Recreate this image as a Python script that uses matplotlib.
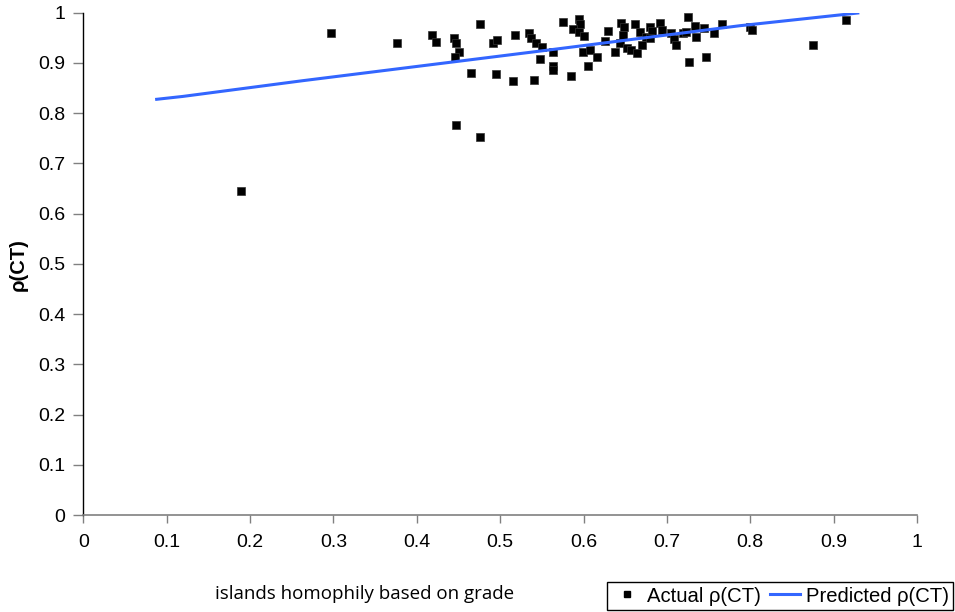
import matplotlib
matplotlib.use("Agg")
import matplotlib.pyplot as plt
from matplotlib.lines import Line2D

# Actual rho(CT) scatter values
actual_x = [0.1887, 0.2966, 0.3765, 0.4185, 0.4229, 0.4445, 0.4469, 0.4508, 0.4460, 0.4472,
            0.4757, 0.4757, 0.4645, 0.4909, 0.4957, 0.4948, 0.5173, 0.5156, 0.5348, 0.5376,
            0.5428, 0.5496, 0.5480, 0.5408, 0.5635, 0.5632, 0.5632, 0.5844, 0.5748, 0.5940,
            0.5956, 0.5868, 0.5947, 0.6004, 0.5995, 0.6076, 0.6156, 0.6048, 0.6295, 0.6259,
            0.6372, 0.6444, 0.6483, 0.6475, 0.6435, 0.6523, 0.6564, 0.6643, 0.6612, 0.6675,
            0.6699, 0.6747, 0.6803, 0.6827, 0.6923, 0.6947, 0.6795, 0.7055, 0.7083, 0.7107,
            0.7194, 0.7254, 0.7235, 0.7338, 0.7347, 0.7266, 0.7451, 0.7475, 0.7571, 0.7667,
            0.7994, 0.8026, 0.8753, 0.9145]
actual_y = [0.6444, 0.9603, 0.9403, 0.9562, 0.9423, 0.9496, 0.9403, 0.9224, 0.9112, 0.7758,
            0.9775, 0.7525, 0.8806, 0.9403, 0.9457, 0.8786, 0.9556, 0.8646, 0.9602, 0.9503,
            0.9391, 0.9323, 0.9078, 0.8666, 0.9224, 0.8939, 0.8869, 0.8740, 0.9821, 0.9875,
            0.9775, 0.9669, 0.9622, 0.9536, 0.9224, 0.9257, 0.9124, 0.8939, 0.9636, 0.9437,
            0.9224, 0.9789, 0.9721, 0.9556, 0.9391, 0.9303, 0.9258, 0.9204, 0.9775, 0.9616,
            0.9357, 0.9522, 0.9709, 0.9642, 0.9789, 0.9656, 0.9490, 0.9602, 0.9471, 0.9357,
            0.9602, 0.9920, 0.9622, 0.9735, 0.9510, 0.9013, 0.9695, 0.9124, 0.9590, 0.9775,
            0.9721, 0.9656, 0.9357, 0.9855]

# Predicted rho(CT) line
pred_x = [0.088, 0.1193, 0.2625, 0.5609, 0.7876, 0.929]
pred_y = [0.8276, 0.8333, 0.8645, 0.9263, 0.9741, 0.9994]

tick_vals = [0.0, 0.1, 0.2, 0.3, 0.4, 0.5, 0.6, 0.7, 0.8, 0.9, 1.0]
tick_labels = ["0", "0.1", "0.2", "0.3", "0.4", "0.5", "0.6", "0.7", "0.8", "0.9", "1"]

plt.rcParams['font.family'] = ['Liberation Sans', 'DejaVu Sans']

fig = plt.figure(figsize=(9.55, 6.12), dpi=100)
ax = fig.add_axes([83.3 / 955, 1 - 515 / 612, (917 - 83.3) / 955, (515 - 12.7) / 612])

ax.plot(actual_x, actual_y, linestyle='none', marker='s', markersize=6,
        markerfacecolor='black', markeredgecolor='#333333', markeredgewidth=0.5,
        zorder=3, clip_on=False)
ax.plot(pred_x, pred_y, color='#3366ff', linewidth=2.2, zorder=4)

ax.set_xlim(0, 1)
ax.set_ylim(0, 1)
ax.set_xticks(tick_vals)
ax.set_xticklabels(tick_labels)
ax.set_yticks(tick_vals)
ax.set_yticklabels(tick_labels)

for s in ['top', 'right']:
    ax.spines[s].set_visible(False)
ax.spines['left'].set_color('black')
ax.spines['bottom'].set_color('#808080')
ax.spines['left'].set_linewidth(1.0)
ax.spines['bottom'].set_linewidth(1.2)

ax.tick_params(axis='x', direction='out', length=6, width=1, color='#808080',
               labelsize=14, pad=8)
ax.tick_params(axis='y', direction='out', length=7, width=1, color='#808080',
               labelsize=14, pad=6)

fig.text(18 / 955, 1 - 265 / 612, 'ρ(CT)', rotation=90, ha='center', va='center',
         fontsize=14.5, fontweight='bold')
fig.text(365 / 955, 1 - 594 / 612, 'islands homophily based on grade', ha='center',
         va='center', fontsize=13.5, family=['Open Sans', 'DejaVu Sans'])

handles = [Line2D([], [], linestyle='none', marker='s', markersize=5, color='black'),
           Line2D([], [], color='#3366ff', linewidth=2.2)]
leg = fig.legend(handles, ['Actual ρ(CT)', 'Predicted ρ(CT)'], ncol=2,
                 loc='lower right', bbox_to_anchor=(953 / 955, 2 / 612),
                 fancybox=False, edgecolor='black', framealpha=1, fontsize=14.6,
                 borderpad=0.22, handlelength=1.5, handletextpad=0.25,
                 columnspacing=0.45, borderaxespad=0)
leg.get_frame().set_linewidth(1.0)

fig.savefig('out.png', dpi=100)
